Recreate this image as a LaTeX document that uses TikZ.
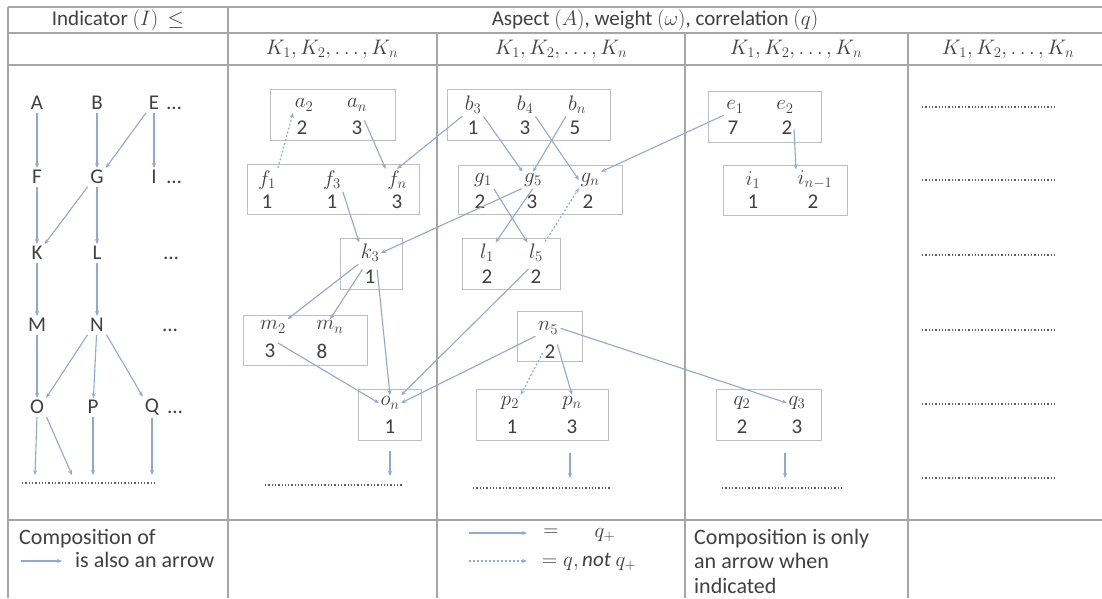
\documentclass[tikz,border=0pt]{standalone}
\usepackage{fix-cm}
\usepackage{fontspec}
\setmainfont{Carlito}
\usetikzlibrary{arrows.meta}
\definecolor{txt}{HTML}{404040}
\definecolor{gridc}{HTML}{A6A6A6}
\definecolor{boxc}{HTML}{BFBFBF}
\definecolor{arr}{HTML}{8FA8D4}
\definecolor{dotc}{HTML}{606060}
\begin{document}
\begin{tikzpicture}[x=1pt,y=-1pt,
  hdr/.style={text=txt, inner sep=0pt, font=\fontsize{21}{24}\selectfont},
  ftxt/.style={text=txt, inner sep=0pt, font=\fontsize{22}{24}\selectfont},
  letter/.style={text=txt, inner sep=2pt, font=\fontsize{21}{24}\selectfont},
  lbl/.style={text=txt, inner sep=1.5pt, font=\fontsize{21}{22}\selectfont},
  boxnode/.style={draw=boxc, line width=0.9pt, inner sep=0pt},
  arrow/.style={draw=arr, line width=1.1pt, -{Stealth[length=5pt,width=4pt]}, shorten <=1pt},
  darrow/.style={arrow, dash pattern=on 2pt off 2pt},
  dotrow/.style={draw=dotc, line width=1.3pt, dash pattern=on 1.3pt off 2pt},
  gridline/.style={draw=gridc, line width=1.2pt}]
\useasboundingbox (0,0) rectangle (1102,598);
\fill[white] (0,0) rectangle (1102,598);

% table grid
\draw[gridline] (8,7) -- (1102,7);
\draw[gridline] (8,33) -- (1102,33);
\draw[gridline] (8,65) -- (1102,65);
\draw[gridline] (8,520) -- (1102,520);
\draw[gridline] (8,7) -- (8,598);
\draw[gridline] (228,7) -- (228,598);
\draw[gridline] (437,33) -- (437,598);
\draw[gridline] (685,33) -- (685,598);
\draw[gridline] (908,33) -- (908,598);

% headers
\node[hdr] (h1) at (118,20) {Indicator $(I)$ \ $\leq$};
\node[hdr] (h2) at (655,20) {Aspect $(A)$, weight $(\omega)$, correlation $(q)$};
\node[hdr] (k2) at (332,49) {$K_1, K_2, \ldots, K_n$};
\node[hdr] (k3) at (561,49) {$K_1, K_2, \ldots, K_n$};
\node[hdr] (k4) at (796,49) {$K_1, K_2, \ldots, K_n$};
\node[hdr] (k5) at (1008,49) {$K_1, K_2, \ldots, K_n$};

% column 1 letters
\node[letter] (A) at (37,103) {A};
\node[letter] (B) at (97,103) {B};
\node[letter] (E) at (154,103) {E};
\node[letter] (Ed) at (174,108) {…};
\node[letter] (F) at (37,177) {F};
\node[letter] (G) at (97,177) {G};
\node[letter] (I) at (154,177) {I};
\node[letter] (Id) at (174,182) {…};
\node[letter] (K) at (37,253) {K};
\node[letter] (L) at (97,253) {L};
\node[letter] (Kd) at (171,258) {…};
\node[letter] (M) at (37,325) {M};
\node[letter] (N) at (97,325) {N};
\node[letter] (Md) at (170,330) {…};
\node[letter] (O) at (37,407) {O};
\node[letter] (P) at (93,407) {P};
\node[letter] (Q) at (152,407) {Q};
\node[letter] (Qd) at (175,412) {…};
\coordinate (o1) at (35,475);
\coordinate (o2) at (72,475);
\coordinate (p1) at (93,475);
\coordinate (q1) at (152,475);
\draw[dotrow] (22,483) -- (157,483);

\draw[arrow] (A) -- (F);
\draw[arrow] (B) -- (G);
\draw[arrow] (E) -- (I);
\draw[arrow] (E.south west) -- (G.north east);
\draw[arrow] (F) -- (K);
\draw[arrow] (G) -- (L);
\draw[arrow] (G.south west) -- (K.north east);
\draw[arrow] (K) -- (M);
\draw[arrow] (L) -- (N);
\draw[arrow] (M) -- (O);
\draw[arrow] (N) -- (P);
\draw[arrow] (N.south west) -- (O.north east);
\draw[arrow] (N.south east) -- (Q.north west);
\draw[arrow] (O.south) -- (o1);
\draw[arrow] (O.south east) -- (o2);
\draw[arrow] (P) -- (p1);
\draw[arrow] (Q) -- (q1);

% column 2 boxes
\node[boxnode, minimum width=125pt, minimum height=51pt] (bxa) at (332.5,114.5) {};
\node[boxnode, minimum width=172pt, minimum height=50pt] (bxf) at (333,189) {};
\node[boxnode, minimum width=62pt, minimum height=51pt] (bxk) at (371,263.5) {};
\node[boxnode, minimum width=124pt, minimum height=50pt] (bxm) at (305,340) {};
\node[boxnode, minimum width=63pt, minimum height=51pt] (bxo) at (389.5,414.5) {};

\node[lbl] (a2) at (304,105) {$a_2$};
\node[lbl] (an) at (357,105) {$a_n$};
\node[lbl] (a2w) at (302,128) {2};
\node[lbl] (anw) at (357,128) {3};
\node[lbl] (f1) at (267,180) {$f_1$};
\node[lbl] (f3) at (332,180) {$f_3$};
\node[lbl] (fn) at (397,180) {$f_n$};
\node[lbl] (f1w) at (267,202) {1};
\node[lbl] (f3w) at (332,202) {1};
\node[lbl] (fnw) at (397,202) {3};
\node[lbl] (k3l) at (370,253) {$k_3$};
\node[lbl] (k3w) at (370,277) {1};
\node[lbl] (m2) at (273,327) {$m_2$};
\node[lbl] (mn) at (330,327) {$m_n$};
\node[lbl] (m2w) at (270,351) {3};
\node[lbl] (mnw) at (322,351) {8};
\node[lbl] (on) at (390,403) {$o_n$};
\node[lbl] (onw) at (390,427) {1};
\coordinate (od0) at (390,450);
\coordinate (od) at (390,476);
\draw[dotrow] (265,485) -- (402,485);

% column 3 boxes
\node[boxnode, minimum width=163pt, minimum height=51pt] (bxb) at (528.5,114.5) {};
\node[boxnode, minimum width=164pt, minimum height=49pt] (bxg) at (540,189.5) {};
\node[boxnode, minimum width=98pt, minimum height=51pt] (bxl) at (511,263.5) {};
\node[boxnode, minimum width=65pt, minimum height=50pt] (bxn) at (549.5,336) {};
\node[boxnode, minimum width=132pt, minimum height=51pt] (bxp) at (542,414.5) {};

\node[lbl] (b3) at (473,105) {$b_3$};
\node[lbl] (b4) at (525,105) {$b_4$};
\node[lbl] (bn) at (577,105) {$b_n$};
\node[lbl] (b3w) at (473,128) {1};
\node[lbl] (b4w) at (525,128) {3};
\node[lbl] (bnw) at (575,128) {5};
\node[lbl] (g1) at (483,180) {$g_1$};
\node[lbl] (g5) at (533,180) {$g_5$};
\node[lbl] (gn) at (590,180) {$g_n$};
\node[lbl] (g1w) at (480,202) {2};
\node[lbl] (g5w) at (532,202) {3};
\node[lbl] (gnw) at (588,202) {2};
\node[lbl] (l1) at (487,253) {$l_1$};
\node[lbl] (l5) at (536,253) {$l_5$};
\node[lbl] (l1w) at (487,277) {2};
\node[lbl] (l5w) at (536,277) {2};
\node[lbl] (n5) at (548,328) {$n_5$};
\node[lbl] (n5w) at (550,352) {2};
\node[lbl] (p2) at (510,403) {$p_2$};
\node[lbl] (pn) at (572,403) {$p_n$};
\node[lbl] (p2w) at (512,427) {1};
\node[lbl] (pnw) at (572,427) {3};
\coordinate (pd0) at (570,452);
\coordinate (pd) at (570,478);
\draw[dotrow] (473,488) -- (610,488);

% column 4 boxes
\node[boxnode, minimum width=113pt, minimum height=51pt] (bxe) at (764.5,116.5) {};
\node[boxnode, minimum width=124pt, minimum height=50pt] (bxi) at (785,190) {};
\node[boxnode, minimum width=105pt, minimum height=51pt] (bxq) at (768.5,414.5) {};

\node[lbl] (e1) at (735,107) {$e_1$};
\node[lbl] (e2) at (785,107) {$e_2$};
\node[lbl] (e1w) at (733,128) {7};
\node[lbl] (e2w) at (787,128) {2};
\node[lbl] (i1) at (753,180) {$i_1$};
\node[lbl] (in1) at (815,180) {$i_{n-1}$};
\node[lbl] (i1w) at (753,202) {1};
\node[lbl] (in1w) at (813,202) {2};
\node[lbl] (q2) at (742,403) {$q_2$};
\node[lbl] (q3) at (797,403) {$q_3$};
\node[lbl] (q2w) at (742,427) {2};
\node[lbl] (q3w) at (797,427) {3};
\coordinate (qd0) at (785,452);
\coordinate (qd) at (785,478);
\draw[dotrow] (722,488) -- (843,488);

% column 5 dotted rows
\foreach \yy in {107,180,255,330,404,478} {
  \draw[dotrow] (922,\yy) -- (1057,\yy);
}

% arrows, columns 2-4
\draw[darrow] (f1.north east) -- (a2.south west);
\draw[arrow] (anw.north east) -- (fn.north west);
\draw[arrow] (b3.south west) -- (fn.north);
\draw[arrow] (f3.south east) -- (k3l.north west);
\draw[arrow] (g5.south west) -- (k3l.east);
\draw[arrow] (k3l.south west) -- (m2.north east);
\draw[arrow] (k3w.north west) -- (mn.north);
\draw[arrow] (k3w.north east) -- (on.north);
\draw[arrow] (m2w.north east) -- (on.west);
\draw[arrow] (l5w.north west) -- (on.north east);
\draw[arrow] (n5.south west) -- (on.east);
\draw[arrow] (od0) -- (od);
\draw[arrow] (b3.south east) -- (g5.north west);
\draw[arrow] (bn.south west) -- (g5.north);
\draw[arrow] (b4.south east) -- (gn.west);
\draw[darrow] (l5.north east) -- (gn.south west);
\draw[arrow] (g1.south east) -- (l5.north west);
\draw[arrow] (g5.south) -- (l1.north east);
\draw[arrow] (e1.south west) -- (gn.north east);
\draw[arrow] (n5w.north east) -- (pn.north);
\draw[darrow] (n5w.west) -- (p2.north east);
\draw[arrow] (n5.east) -- (q3.west);
\draw[arrow] (pd0) -- (pd);
\draw[arrow] (e2w.east) -- (in1.north west);
\draw[arrow] (qd0) -- (qd);

% footer
\node[ftxt, anchor=base west] (c1a) at (19,544) {Composition of};
\coordinate (c1s) at (20,561);
\coordinate (c1e) at (62,561);
\draw[arrow] (c1s) -- (c1e);
\node[ftxt, anchor=base west] (c1b) at (75,567) {is also an arrow};

\coordinate (c3s1) at (468,533);
\coordinate (c3e1) at (527,533);
\draw[arrow] (c3s1) -- (c3e1);
\node[hdr] (eq1) at (551,533) {$=$};
\node[hdr] (qp) at (605,535) {$q_+$};
\coordinate (c3s2) at (468,561);
\coordinate (c3e2) at (527,561);
\draw[darrow] (c3s2) -- (c3e2);
\node[hdr, anchor=west] (eq2) at (542,562) {$= q, \mathit{not}\ q_+$};

\node[ftxt, anchor=base west] (c4a) at (694,544) {Composition is only};
\node[ftxt, anchor=base west] (c4b) at (694,568) {an arrow when};
\node[ftxt, anchor=base west] (c4c) at (694,593) {indicated};
\end{tikzpicture}
\end{document}
